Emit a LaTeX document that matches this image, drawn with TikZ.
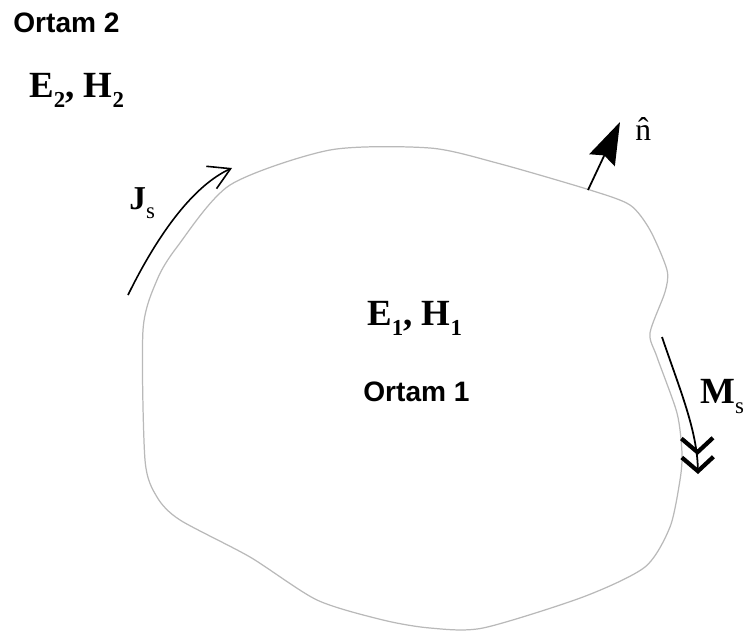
\documentclass[tikz,border=0pt]{standalone}
\usepackage{fontspec}
\setmainfont{Liberation Serif}
\setsansfont{Liberation Sans}
\usepackage{tikz}
\usetikzlibrary{arrows.meta}
\definecolor{outline}{RGB}{185, 185, 185}
\newcommand{\fsub}[1]{\raisebox{-0.6ex}{\fontsize{13}{13}\selectfont #1}}

\begin{document}
\begin{tikzpicture}[
    x=0.02cm, y=-0.02cm,
    region/.style={font=\sffamily\bfseries\fontsize{16}{18}\selectfont, inner sep=0pt, anchor=base west},
    field/.style={font=\bfseries\fontsize{21}{24}\selectfont, inner sep=0pt, anchor=base west},
    boundary/.style={draw=outline, line width=0.7pt},
    curarrow/.style={-{Straight Barb[length=12pt, width=14pt]}, line width=0.9pt},
    normarrow/.style={-{Stealth[length=24pt, width=16pt, inset=3pt]}, line width=1pt},
    magarrow/.style={-{Straight Barb[length=8pt, width=18pt, line width=2.4pt] Straight Barb[length=8pt, width=18pt, line width=2.4pt]}, line width=1pt}
]
    \useasboundingbox (0,0) rectangle (745,637);

    % Boundary
    \draw [boundary] plot[smooth cycle, tension=0.45] coordinates {
        (145,460) (143,330) (157,280) (177,247) (230,185) (330,150)
        (430,148) (497,163) (590,190) (630,205) (650,230) (667,270)
        (665,292) (650,333) (657,357) (677,413) (682,453) (680,480)
        (670,527) (645,567) (583,597) (483,628) (430,628) (383,620)
        (317,600) (250,557) (180,520) (157,497)};

    % Nodes
    \node (ortam2) [region] at (13,32) {Ortam 2};
    \node (fields2) [field] at (29,97) {E\fsub{2}, H\fsub{2}};
    \node (fields1) [field] at (367,325) {E\fsub{1}, H\fsub{1}};
    \node (ortam1) [region] at (363,401) {Ortam 1};
    \node (jlabel) [field, font=\bfseries\fontsize{19}{22}\selectfont] at (129,209) {J\fsub{\mdseries s}};
    \node (mlabel) [field] at (700,403) {M\fsub{\mdseries s}};
    \node (nlabel) [inner sep=0pt, anchor=base west, font=\fontsize{18}{20}\selectfont] at (635,140) {\^{n}};

    \coordinate (jstart) at (128,295);
    \coordinate (jend) at (232,168);
    \coordinate (nbase) at (588,190);
    \coordinate (ntip) at (620,122);
    \coordinate (mstart) at (662,337);
    \coordinate (mend) at (698,474);

    % Connections
    \draw [curarrow] (jstart) .. controls (160,230) and (195,185) .. (jend);
    \draw [normarrow] (nbase) -- (ntip);
    \draw [magarrow] (mstart) .. controls (680,390) and (697,430) .. (mend);
\end{tikzpicture}
\end{document}
